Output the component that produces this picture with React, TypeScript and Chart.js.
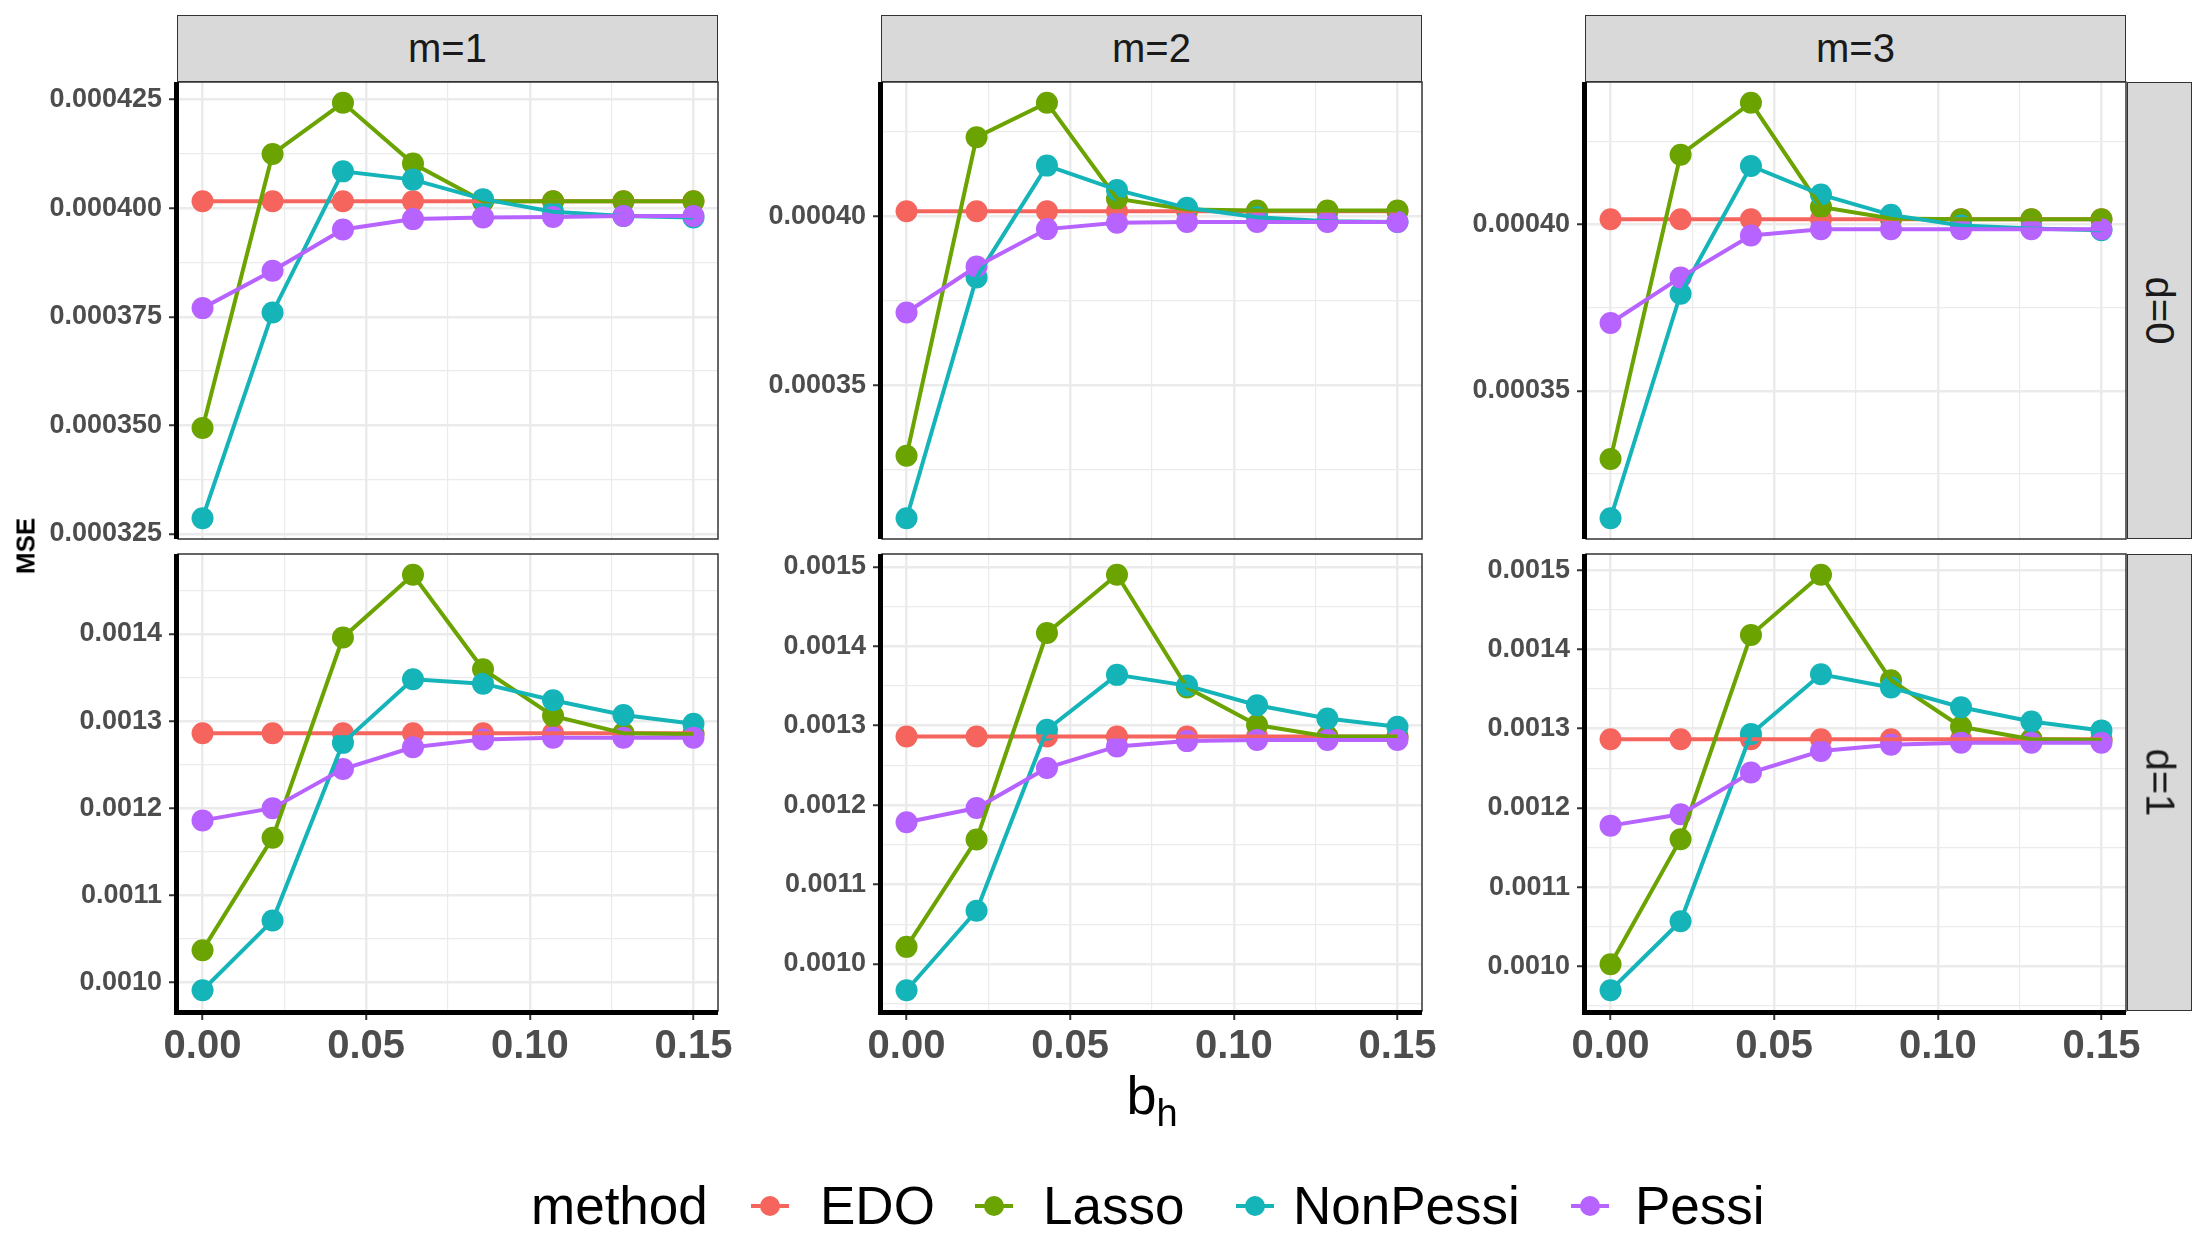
import React, { useEffect, useRef } from "react";
import { Chart, registerables } from "chart.js";

Chart.register(...registerables);

const FONT = '"Liberation Sans", Arial, Helvetica, sans-serif';

// ---------- data ----------
const bh = [0, 0.0214, 0.0429, 0.0643, 0.0857, 0.1071, 0.1286, 0.15];
const xTicks = [0, 0.05, 0.1, 0.15];
const xTickLabels = ["0.00", "0.05", "0.10", "0.15"];

const methods = ["EDO", "Lasso", "NonPessi", "Pessi"];
const methodColors = ["#F5655E", "#6BA300", "#14B4B8", "#B763FF"];

const mLabels = ["m=1", "m=2", "m=3"];
const dLabels = ["d=0", "d=1"];

// d=0, m=1
const edoD0M1 = [0.0004016, 0.0004016, 0.0004016, 0.0004016, 0.0004016, 0.0004016, 0.0004016, 0.0004016];
const lassoD0M1 = [0.0003494, 0.0004125, 0.0004243, 0.0004103, 0.0004016, 0.0004016, 0.0004016, 0.0004016];
const nonPessiD0M1 = [0.0003286, 0.000376, 0.0004085, 0.0004066, 0.0004021, 0.0003992, 0.0003982, 0.0003979];
const pessiD0M1 = [0.000377, 0.0003856, 0.0003951, 0.0003975, 0.0003979, 0.000398, 0.0003982, 0.0003982];

// d=0, m=2
const edoD0M2 = [0.0004015, 0.0004015, 0.0004015, 0.0004015, 0.0004015, 0.0004015, 0.0004015, 0.0004015];
const lassoD0M2 = [0.0003291, 0.0004234, 0.0004336, 0.0004052, 0.000402, 0.0004017, 0.0004017, 0.0004017];
const nonPessiD0M2 = [0.0003106, 0.0003819, 0.000415, 0.0004078, 0.0004025, 0.0003997, 0.0003985, 0.0003983];
const pessiD0M2 = [0.0003715, 0.0003851, 0.0003962, 0.0003981, 0.0003983, 0.0003983, 0.0003983, 0.0003983];

// d=0, m=3
const edoD0M3 = [0.0004016, 0.0004016, 0.0004016, 0.0004016, 0.0004016, 0.0004016, 0.0004016, 0.0004016];
const lassoD0M3 = [0.0003295, 0.000421, 0.0004366, 0.0004053, 0.0004018, 0.0004016, 0.0004016, 0.0004016];
const nonPessiD0M3 = [0.0003117, 0.0003792, 0.0004176, 0.000409, 0.0004029, 0.0003997, 0.0003988, 0.0003983];
const pessiD0M3 = [0.0003704, 0.0003841, 0.0003967, 0.0003986, 0.0003986, 0.0003986, 0.0003986, 0.0003986];

// d=1, m=1
const edoD1M1 = [0.001286, 0.001286, 0.001286, 0.001286, 0.001286, 0.001286, 0.001286, 0.001286];
const lassoD1M1 = [0.001037, 0.001166, 0.001396, 0.001468, 0.0013595, 0.001306, 0.001286, 0.001285];
const nonPessiD1M1 = [0.000991, 0.001071, 0.001275, 0.001348, 0.001343, 0.001324, 0.001307, 0.001297];
const pessiD1M1 = [0.001186, 0.0012, 0.001245, 0.00127, 0.001279, 0.001281, 0.001281, 0.001281];

// d=1, m=2
const edoD1M2 = [0.0012865, 0.0012865, 0.0012865, 0.0012865, 0.0012865, 0.0012865, 0.0012865, 0.0012865];
const lassoD1M2 = [0.0010216, 0.0011568, 0.0014167, 0.00149, 0.001348, 0.0013009, 0.0012865, 0.0012865];
const nonPessiD1M2 = [0.000967, 0.001067, 0.001295, 0.001364, 0.0013505, 0.0013257, 0.001309, 0.0012986];
const pessiD1M2 = [0.0011784, 0.0011964, 0.0012468, 0.0012739, 0.0012806, 0.001282, 0.001282, 0.001282];

// d=1, m=3
const edoD1M3 = [0.0012865, 0.0012865, 0.0012865, 0.0012865, 0.0012865, 0.0012865, 0.0012865, 0.0012865];
const lassoD1M3 = [0.0010027, 0.0011604, 0.001418, 0.0014941, 0.001361, 0.0013023, 0.0012865, 0.0012855];
const nonPessiD1M3 = [0.0009698, 0.0010568, 0.0012932, 0.0013685, 0.0013518, 0.001327, 0.001309, 0.0012977];
const pessiD1M3 = [0.0011775, 0.0011919, 0.0012446, 0.0012716, 0.0012797, 0.001282, 0.001282, 0.001282];

// y tick values & labels
const yTicksD0M1 = [0.000325, 0.00035, 0.000375, 0.0004, 0.000425];
const yLabelsD0M1 = ["0.000325", "0.000350", "0.000375", "0.000400", "0.000425"];
const yTicksD0 = [0.00035, 0.0004];
const yLabelsD0 = ["0.00035", "0.00040"];
const yTicksD1 = [0.001, 0.0011, 0.0012, 0.0013, 0.0014, 0.0015];
const yLabelsD1 = ["0.0010", "0.0011", "0.0012", "0.0013", "0.0014", "0.0015"];

const panels = [
  { row: 0, col: 0, series: [edoD0M1, lassoD0M1, nonPessiD0M1, pessiD0M1], ticks: yTicksD0M1, labels: yLabelsD0M1 },
  { row: 0, col: 1, series: [edoD0M2, lassoD0M2, nonPessiD0M2, pessiD0M2], ticks: yTicksD0, labels: yLabelsD0 },
  { row: 0, col: 2, series: [edoD0M3, lassoD0M3, nonPessiD0M3, pessiD0M3], ticks: yTicksD0, labels: yLabelsD0 },
  { row: 1, col: 0, series: [edoD1M1, lassoD1M1, nonPessiD1M1, pessiD1M1], ticks: yTicksD1, labels: yLabelsD1 },
  { row: 1, col: 1, series: [edoD1M2, lassoD1M2, nonPessiD1M2, pessiD1M2], ticks: yTicksD1, labels: yLabelsD1 },
  { row: 1, col: 2, series: [edoD1M3, lassoD1M3, nonPessiD1M3, pessiD1M3], ticks: yTicksD1, labels: yLabelsD1 },
];

// ---------- layout ----------
const COL_LEFT = [178, 882, 1586];
const PANEL_W = 540;
const ROW_TOP = [82, 554];
const PANEL_H = 457;
const Y_AXIS_W = 170;
const X_AXIS_H = 75;
const PAD_T = 30;
const PAD_B = 30;
const PAD_R = 45;

function near(a: number, b: number, tol: number) {
  return Math.abs(a - b) < tol;
}

function Panel({ p }: { p: any }) {
  const ref = useRef<HTMLCanvasElement>(null);
  const isBottom = p.row === 1;
  const width = Y_AXIS_W + PANEL_W + PAD_R;
  const height = PAD_T + PANEL_H + (isBottom ? X_AXIS_H : 0) + PAD_B;

  useEffect(() => {
    if (!ref.current) return;
    const xr = bh[bh.length - 1] - bh[0];
    const xMin = bh[0] - xr * 0.05;
    const xMax = bh[bh.length - 1] + xr * 0.05;
    const xStep = xTicks[1] - xTicks[0];
    const xAll: number[] = [];
    for (let i = 0; i < xTicks.length; i++) {
      xAll.push(xTicks[i]);
      if (i < xTicks.length - 1) xAll.push(xTicks[i] + xStep / 2);
    }
    const xIsMajor = (v: number) => xTicks.some((t) => near(t, v, xStep * 1e-3));

    const all = ([] as number[]).concat(...p.series);
    const lo = Math.min(...all);
    const hi = Math.max(...all);
    const ex = (hi - lo) * 0.05;
    const yMin = lo - ex;
    const yMax = hi + ex;
    const step = p.ticks[1] - p.ticks[0];
    const yMajor = (p.ticks as number[]).filter((v) => v >= yMin && v <= yMax);
    const yAll: number[] = [...yMajor];
    for (let k = -6; k < 20; k++) {
      const v = p.ticks[0] + (k + 0.5) * step;
      if (v >= yMin && v <= yMax) yAll.push(v);
    }
    yAll.sort((a, b) => a - b);
    const yIsMajor = (v: number) => yMajor.some((t) => near(t, v, step * 1e-3));
    const yLabel = (v: number) => {
      const i = (p.ticks as number[]).findIndex((t) => near(t, v, step * 1e-3));
      return i >= 0 ? p.labels[i] : "";
    };
    const xLabel = (v: number) => {
      const i = xTicks.findIndex((t) => near(t, v, xStep * 1e-3));
      return i >= 0 ? xTickLabels[i] : "";
    };

    const datasets: any[] = [];
    methods.forEach((m, i) => {
      datasets.push({
        label: m + " line",
        data: bh.map((x, j) => ({ x, y: p.series[i][j] })),
        borderColor: methodColors[i],
        backgroundColor: methodColors[i],
        borderWidth: 4,
        pointRadius: 0,
        tension: 0,
        fill: false,
        clip: false,
        order: 4 - i,
      });
    });
    methods.forEach((m, i) => {
      datasets.push({
        label: m,
        data: bh.map((x, j) => ({ x, y: p.series[i][j] })),
        showLine: false,
        pointRadius: 11,
        pointBorderWidth: 0,
        pointBackgroundColor: methodColors[i],
        pointBorderColor: methodColors[i],
        clip: false,
        order: 8 - i,
      });
    });

    const framePlugin = {
      id: "frame" + p.row + p.col,
      afterDraw(chart: any) {
        const { ctx, chartArea: a } = chart;
        ctx.save();
        ctx.strokeStyle = "#333333";
        ctx.lineWidth = 1.5;
        ctx.strokeRect(a.left, a.top, a.right - a.left, a.bottom - a.top);
        ctx.strokeStyle = "#000000";
        ctx.lineWidth = 5;
        ctx.beginPath();
        ctx.moveTo(a.left - 1.5, a.top);
        ctx.lineTo(a.left - 1.5, a.bottom + (isBottom ? 4 : 0));
        if (isBottom) {
          ctx.moveTo(a.left - 4, a.bottom + 1.5);
          ctx.lineTo(a.right, a.bottom + 1.5);
        }
        ctx.stroke();
        ctx.restore();
      },
    };

    const chart = new Chart(ref.current, {
      type: "line",
      data: { datasets },
      options: {
        responsive: false,
        maintainAspectRatio: false,
        animation: false,
        devicePixelRatio: 1,
        layout: { padding: { left: 0, top: PAD_T, right: PAD_R, bottom: PAD_B } },
        plugins: { legend: { display: false }, tooltip: { enabled: false } },
        events: [],
        scales: {
          x: {
            type: "linear",
            min: xMin,
            max: xMax,
            afterBuildTicks: (s: any) => {
              s.ticks = xAll.map((v) => ({ value: v }));
            },
            afterFit: (s: any) => {
              s.height = isBottom ? X_AXIS_H : 0;
            },
            ticks: {
              display: isBottom,
              autoSkip: false,
              maxRotation: 0,
              minRotation: 0,
              padding: 3,
              color: "#4D4D4D",
              font: { family: FONT, size: 40, weight: "bold" },
              callback: (v: any) => xLabel(Number(v)),
            },
            grid: {
              color: "#EBEBEB",
              lineWidth: (c: any) => (c.tick && xIsMajor(c.tick.value) ? 2.5 : 1.2),
              drawTicks: isBottom,
              tickLength: 9,
              tickWidth: (c: any) => (c.tick && xIsMajor(c.tick.value) ? 2 : 0),
              tickColor: (c: any) => (c.tick && xIsMajor(c.tick.value) ? "#333333" : "rgba(0,0,0,0)"),
            },
            border: { display: false },
          },
          y: {
            type: "linear",
            min: yMin,
            max: yMax,
            afterBuildTicks: (s: any) => {
              s.ticks = yAll.map((v) => ({ value: v }));
            },
            afterFit: (s: any) => {
              s.width = Y_AXIS_W;
            },
            ticks: {
              autoSkip: false,
              padding: 7,
              color: "#4D4D4D",
              font: { family: FONT, size: 27, weight: "bold" },
              callback: (v: any) => yLabel(Number(v)),
            },
            grid: {
              color: "#EBEBEB",
              lineWidth: (c: any) => (c.tick && yIsMajor(c.tick.value) ? 2.5 : 1.2),
              drawTicks: true,
              tickLength: 9,
              tickWidth: (c: any) => (c.tick && yIsMajor(c.tick.value) ? 2 : 0),
              tickColor: (c: any) => (c.tick && yIsMajor(c.tick.value) ? "#333333" : "rgba(0,0,0,0)"),
            },
            border: { display: false },
          },
        },
      } as any,
      plugins: [framePlugin],
    });
    return () => chart.destroy();
  }, []);

  return (
    <canvas
      ref={ref}
      width={width}
      height={height}
      style={{
        position: "absolute",
        left: COL_LEFT[p.col] - Y_AXIS_W,
        top: ROW_TOP[p.row] - PAD_T,
        width,
        height,
      }}
    />
  );
}

export default function App() {
  const stripBase: React.CSSProperties = {
    position: "absolute",
    boxSizing: "border-box",
    background: "#D9D9D9",
    border: "1.5px solid #333333",
    color: "#1A1A1A",
    fontSize: 40,
    display: "flex",
    alignItems: "center",
    justifyContent: "center",
    whiteSpace: "nowrap",
  };
  const legendKeys = [770, 994, 1255, 1590];
  const legendTexts = [820, 1043, 1293, 1635];
  return (
    <div
      style={{
        position: "absolute",
        left: 0,
        top: 0,
        width: 2204,
        height: 1259,
        background: "#FFFFFF",
        overflow: "hidden",
        fontFamily: FONT,
      }}
    >
      {panels.map((p) => (
        <Panel key={p.row + "-" + p.col} p={p} />
      ))}
      {mLabels.map((m, i) => (
        <div key={m} style={{ ...stripBase, left: COL_LEFT[i] - 1, top: 15, width: PANEL_W + 1, height: 67 }}>
          {m}
        </div>
      ))}
      {dLabels.map((d, i) => (
        <div key={d} style={{ ...stripBase, left: 2127, top: ROW_TOP[i], width: 65, height: PANEL_H }}>
          <span style={{ display: "inline-block", transform: "rotate(90deg)" }}>{d}</span>
        </div>
      ))}
      <div
        style={{
          position: "absolute",
          left: 26,
          top: 546,
          transform: "translate(-50%, -50%) rotate(-90deg)",
          fontWeight: "bold",
          fontSize: 26,
          color: "#000",
          whiteSpace: "nowrap",
        }}
      >
        MSE
      </div>
      <div
        style={{
          position: "absolute",
          left: COL_LEFT[0],
          width: COL_LEFT[2] + PANEL_W - COL_LEFT[0],
          top: 1068,
          textAlign: "center",
          fontSize: 54,
          lineHeight: "54px",
          color: "#000",
        }}
      >
        b<sub style={{ fontSize: 38, verticalAlign: "-12px" }}>h</sub>
      </div>
      <div
        style={{
          position: "absolute",
          left: 531,
          top: 1178,
          fontSize: 53,
          lineHeight: "56px",
          color: "#000",
          whiteSpace: "nowrap",
        }}
      >
        method
      </div>
      {methods.map((m, i) => (
        <React.Fragment key={m}>
          <div
            style={{
              position: "absolute",
              left: legendKeys[i] - 19,
              top: 1204,
              width: 38,
              height: 4,
              background: methodColors[i],
            }}
          />
          <div
            style={{
              position: "absolute",
              left: legendKeys[i] - 10,
              top: 1196,
              width: 20,
              height: 20,
              borderRadius: 10,
              background: methodColors[i],
            }}
          />
          <div
            style={{
              position: "absolute",
              left: legendTexts[i],
              top: 1178,
              fontSize: 53,
              lineHeight: "56px",
              color: "#000",
              whiteSpace: "nowrap",
            }}
          >
            {m}
          </div>
        </React.Fragment>
      ))}
    </div>
  );
}
